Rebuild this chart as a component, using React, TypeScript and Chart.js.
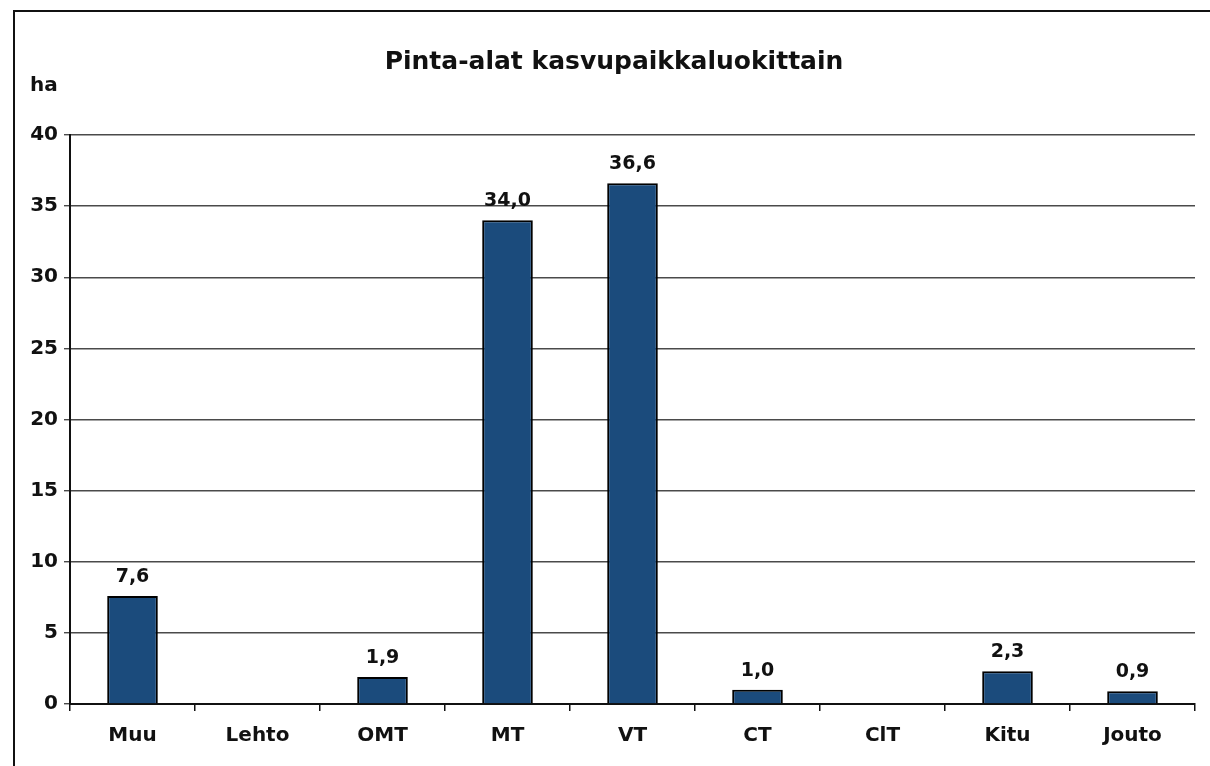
import React, { useEffect, useRef } from "react";
import { Chart, registerables } from "chart.js";

Chart.register(...registerables);

const categories = ["Muu", "Lehto", "OMT", "MT", "VT", "CT", "ClT", "Kitu", "Jouto"];
const values = [7.6, 0, 1.9, 34.0, 36.6, 1.0, 0, 2.3, 0.9];
const yTicks = [0, 5, 10, 15, 20, 25, 30, 35, 40];
const titleText = "Pinta-alat kasvupaikkaluokittain";
const unitText = "ha";

const FONT = "'DejaVu Sans', Verdana, sans-serif";

export default function App() {
  const ref = useRef<HTMLCanvasElement | null>(null);

  useEffect(() => {
    const canvas = ref.current;
    if (!canvas) return;

    const decor = {
      id: "decor",
      beforeDraw(chart: any) {
        const ctx = chart.ctx;
        ctx.save();
        ctx.strokeStyle = "#111";
        ctx.lineWidth = 2;
        ctx.strokeRect(14, 11, 1220, 780);
        ctx.restore();
      },
      afterDraw(chart: any) {
        const ctx = chart.ctx;
        ctx.save();
        ctx.fillStyle = "#111";
        ctx.font = `bold 25px ${FONT}`;
        ctx.textAlign = "center";
        ctx.textBaseline = "alphabetic";
        ctx.fillText(titleText, 614, 69);
        ctx.font = `bold 20px ${FONT}`;
        ctx.textAlign = "left";
        ctx.fillText(unitText, 30, 91);
        // value labels
        const meta = chart.getDatasetMeta(0);
        ctx.font = `bold 19px ${FONT}`;
        ctx.textAlign = "center";
        meta.data.forEach((bar: any, i: number) => {
          const v = values[i];
          if (!v) return;
          ctx.fillText(v.toFixed(1).replace(".", ","), bar.x, bar.y - 14);
        });
        ctx.restore();
      },
    };

    const chart = new Chart(canvas, {
      type: "bar",
      data: {
        labels: categories,
        datasets: [
          {
            data: values,
            backgroundColor: "#1b4b7c",
            borderColor: "#000",
            borderWidth: 2,
            barPercentage: 0.405,
            categoryPercentage: 1,
          },
        ],
      },
      options: {
        responsive: true,
        maintainAspectRatio: false,
        animation: false,
        layout: { padding: { left: 0, right: 15, top: 135, bottom: 0 } },
        plugins: {
          legend: { display: false },
          title: { display: false },
          tooltip: { enabled: false },
        },
        scales: {
          x: {
            afterFit: (s: any) => {
              s.height = 62;
            },
            grid: {
              drawOnChartArea: false,
              drawTicks: true,
              tickLength: 7,
              color: "#111",
              lineWidth: 1.5,
            },
            border: { display: true, color: "#111", width: 2 },
            ticks: {
              color: "#111",
              font: { family: FONT, size: 20, weight: "bold" },
              padding: 13,
              maxRotation: 0,
            },
          },
          y: {
            min: 0,
            max: 40,
            afterFit: (s: any) => {
              s.width = 70;
            },
            afterBuildTicks: (s: any) => {
              s.ticks = yTicks.map((v) => ({ value: v }));
            },
            grid: {
              color: "#4a4a4a",
              lineWidth: 1.4,
              drawTicks: true,
              tickLength: 6,
            },
            border: { display: true, color: "#111", width: 2 },
            ticks: {
              color: "#111",
              font: { family: FONT, size: 20, weight: "bold" },
              padding: 6,
            },
          },
        },
      },
      plugins: [decor],
    });

    return () => chart.destroy();
  }, []);

  return (
    <div style={{ position: "fixed", left: 0, top: 0, width: 1210, height: 766, background: "#fff" }}>
      <canvas ref={ref} />
    </div>
  );
}
